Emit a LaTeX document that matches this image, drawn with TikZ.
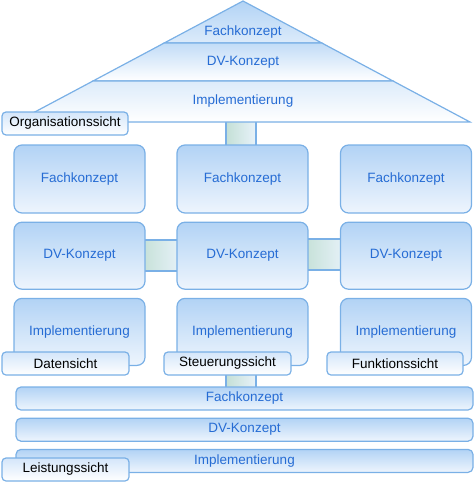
\documentclass[tikz,border=0pt]{standalone}
\usepackage{fontspec}
\setmainfont{Liberation Sans}
\usepackage{tikz}
\usetikzlibrary{positioning}

\definecolor{boxline}{RGB}{122,176,230}
\definecolor{boxtop}{RGB}{178,211,245}
\definecolor{boxbot}{RGB}{238,245,253}
\definecolor{txtblue}{RGB}{38,108,212}
\definecolor{stemtop}{RGB}{196,224,214}
\definecolor{stembot}{RGB}{232,242,250}
\definecolor{lbltop}{RGB}{212,230,250}

\begin{document}
\begin{tikzpicture}[
  x=1pt,y=-1pt,
  every node/.style={font=\fontsize{13.5}{16}\selectfont},
  part/.style={draw=boxline,line width=1.2pt,rounded corners=8pt,
               top color=boxtop,bottom color=boxbot,text=txtblue,
               minimum width=131pt,minimum height=67pt,inner sep=0pt},
  bar/.style={draw=boxline,line width=1.2pt,rounded corners=5pt,
              top color=boxtop,bottom color=boxbot,text=txtblue,
              minimum width=457pt,minimum height=23pt,inner sep=0pt},
  view/.style={draw=boxline,line width=1.2pt,rounded corners=4pt,
               top color=lbltop,bottom color=white,text=black,
               minimum width=127pt,minimum height=23pt,inner sep=0pt},
  stem/.style={draw=boxline,line width=1.2pt,
               left color=stemtop,right color=stembot,inner sep=0pt},
  tri/.style={draw=boxline,line width=1.2pt},
  lvl/.style={text=txtblue}
]
\useasboundingbox (0,0) rectangle (474,482);

%% connectors (behind the boxes)
\node[stem,minimum width=30pt,minimum height=32pt] (s0) at (241,134) {};
\node[stem,minimum width=42pt,minimum height=31pt] (s1) at (161,255.5) {};
\node[stem,minimum width=43pt,minimum height=31pt] (s2) at (324.5,254.5) {};
\node[stem,minimum width=30pt,minimum height=22pt] (s3) at (241,381) {};

%% house roof: Organisationssicht
\path[tri,top color=boxtop,bottom color=boxtop!45!white]
  (243,1) -- (321.8,43) -- (164.2,43) -- cycle;
\path[tri,top color=boxtop!80!white,bottom color=white]
  (164.2,43) -- (321.8,43) -- (393,81) -- (93,81) -- cycle;
\path[tri,top color=boxtop!45!white,bottom color=white]
  (93,81) -- (393,81) -- (470,122) -- (16,122) -- cycle;
\node[lvl] (oF) at (243,32)  {Fachkonzept};
\node[lvl] (oD) at (243,62)  {DV-Konzept};
\node[lvl] (oI) at (243,101) {Implementierung};
\node[view,minimum width=126pt] (org) at (65,123.5) {Organisationssicht};

%% columns: Daten, Steuerung, Funktion
\node[part,minimum height=68pt] (dF) at (79.5,179) {Fachkonzept};
\node[part,below=8pt of dF] (dD) {DV-Konzept};
\node[part,below=8pt of dD] (dI) {Implementierung};

\node[part,minimum height=68pt] (sF) at (242.5,179) {Fachkonzept};
\node[part,below=8pt of sF] (sD) {DV-Konzept};
\node[part,below=8pt of sD] (sI) {Implementierung};

\node[part,minimum height=68pt] (fF) at (406,179) {Fachkonzept};
\node[part,below=8pt of fF] (fD) {DV-Konzept};
\node[part,below=8pt of fD] (fI) {Implementierung};

\node[view] (dat) at (65.5,363.5)  {Datensicht};
\node[view] (ste) at (227.5,363.5) {Steuerungssicht};
\node[view,minimum width=136pt] (fkt) at (395,363.5) {Funktionssicht};

%% base: Leistungssicht
\node[bar] (lF) at (244.5,398.5) {Fachkonzept};
\node[bar,below=7pt of lF] (lD) {DV-Konzept};
\node[bar,below=7pt of lD] (lI) {Implementierung};
\node[view] (lei) at (65.5,469.5) {Leistungssicht};

\end{tikzpicture}
\end{document}
